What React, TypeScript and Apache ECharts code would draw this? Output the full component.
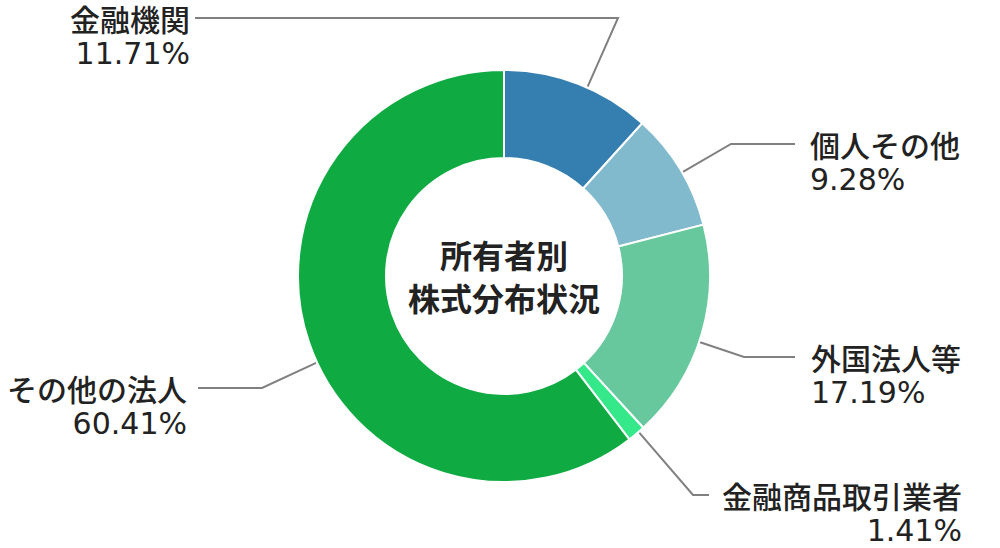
import { useEffect, useRef } from 'react';
import * as echarts from 'echarts';

// 所有者別株式分布状況
const NAMES = ['金融機関', '個人その他', '外国法人等', '金融商品取引業者', 'その他の法人'];
const SHARES = [11.71, 9.28, 17.19, 1.41, 60.41];
const COLORS = ['#357eb0', '#82bacd', '#67c79d', '#35e88a', '#0faa41'];
const CENTER_TITLE = ['所有者別', '株式分布状況'];

const CENTER = [504, 276];
const R_IN = 118;
const R_OUT = 206;
const FONT = '"Noto Sans CJK JP", "Noto Sans", sans-serif';
const NUM_FONT = '"DejaVu Sans", "Noto Sans", sans-serif';
const LINE_H = 35;

// where each label line bends and ends, and where its text sits
const LABEL_POS = [
  { elbow: [618, 18], end: [195, 18], textX: 190, align: 'right' },
  { elbow: [731, 144], end: [795, 144], textX: 810, align: 'left' },
  { elbow: [744, 357], end: [795, 357], textX: 811, align: 'left' },
  { elbow: [693, 495], end: [709, 495], textX: 962, align: 'right' },
  { elbow: [262, 388], end: [198, 388], textX: 187, align: 'right' },
];

export default function App() {
  const ref = useRef<HTMLDivElement>(null);

  useEffect(() => {
    document.body.style.margin = '0';
    if (!ref.current) return;
    const chart = echarts.init(ref.current, null, { renderer: 'svg' });
    chart.setOption({
      animation: false,
      graphic: [
        {
          type: 'text',
          x: CENTER[0],
          y: CENTER[1] - 1,
          style: {
            text: CENTER_TITLE.join('\n'),
            fontFamily: FONT,
            fontSize: 32,
            fontWeight: 'bold',
            lineHeight: 43,
            fill: '#222',
            textAlign: 'center',
            textVerticalAlign: 'middle',
          },
        },
      ],
      series: [
        {
          type: 'pie',
          center: CENTER,
          radius: [R_IN, R_OUT],
          startAngle: 90,
          avoidLabelOverlap: false,
          itemStyle: { borderColor: '#fff', borderWidth: 2 },
          data: NAMES.map((name, i) => ({
            name,
            value: SHARES[i],
            itemStyle: { color: COLORS[i] },
          })),
          label: {
            show: true,
            formatter: (p: any) => `{n|${p.name}}\n{v|${p.value.toFixed(2)}%}`,
            color: '#222',
            rich: {
              n: {
                fontFamily: FONT,
                fontSize: 30,
                fontWeight: 500,
                lineHeight: LINE_H,
                color: '#222',
              },
              v: {
                fontFamily: NUM_FONT,
                fontSize: 30,
                lineHeight: LINE_H,
                color: '#222',
              },
            },
          },
          labelLine: {
            show: true,
            lineStyle: { color: '#808080', width: 2 },
          },
          labelLayout: (params: any) => {
            const pos = LABEL_POS[params.dataIndex];
            const dx = pos.elbow[0] - CENTER[0];
            const dy = pos.elbow[1] - CENTER[1];
            const d = Math.sqrt(dx * dx + dy * dy);
            const start = [CENTER[0] + (dx / d) * (R_OUT + 1), CENTER[1] + (dy / d) * (R_OUT + 1)];
            return {
              x: pos.textX,
              y: pos.end[1] - LINE_H / 2,
              align: pos.align,
              verticalAlign: 'top',
              labelLinePoints: [start, pos.elbow, pos.end],
            };
          },
        },
      ],
    });
    return () => {
      chart.dispose();
    };
  }, []);

  return <div ref={ref} style={{ width: 1000, height: 548 }} />;
}
